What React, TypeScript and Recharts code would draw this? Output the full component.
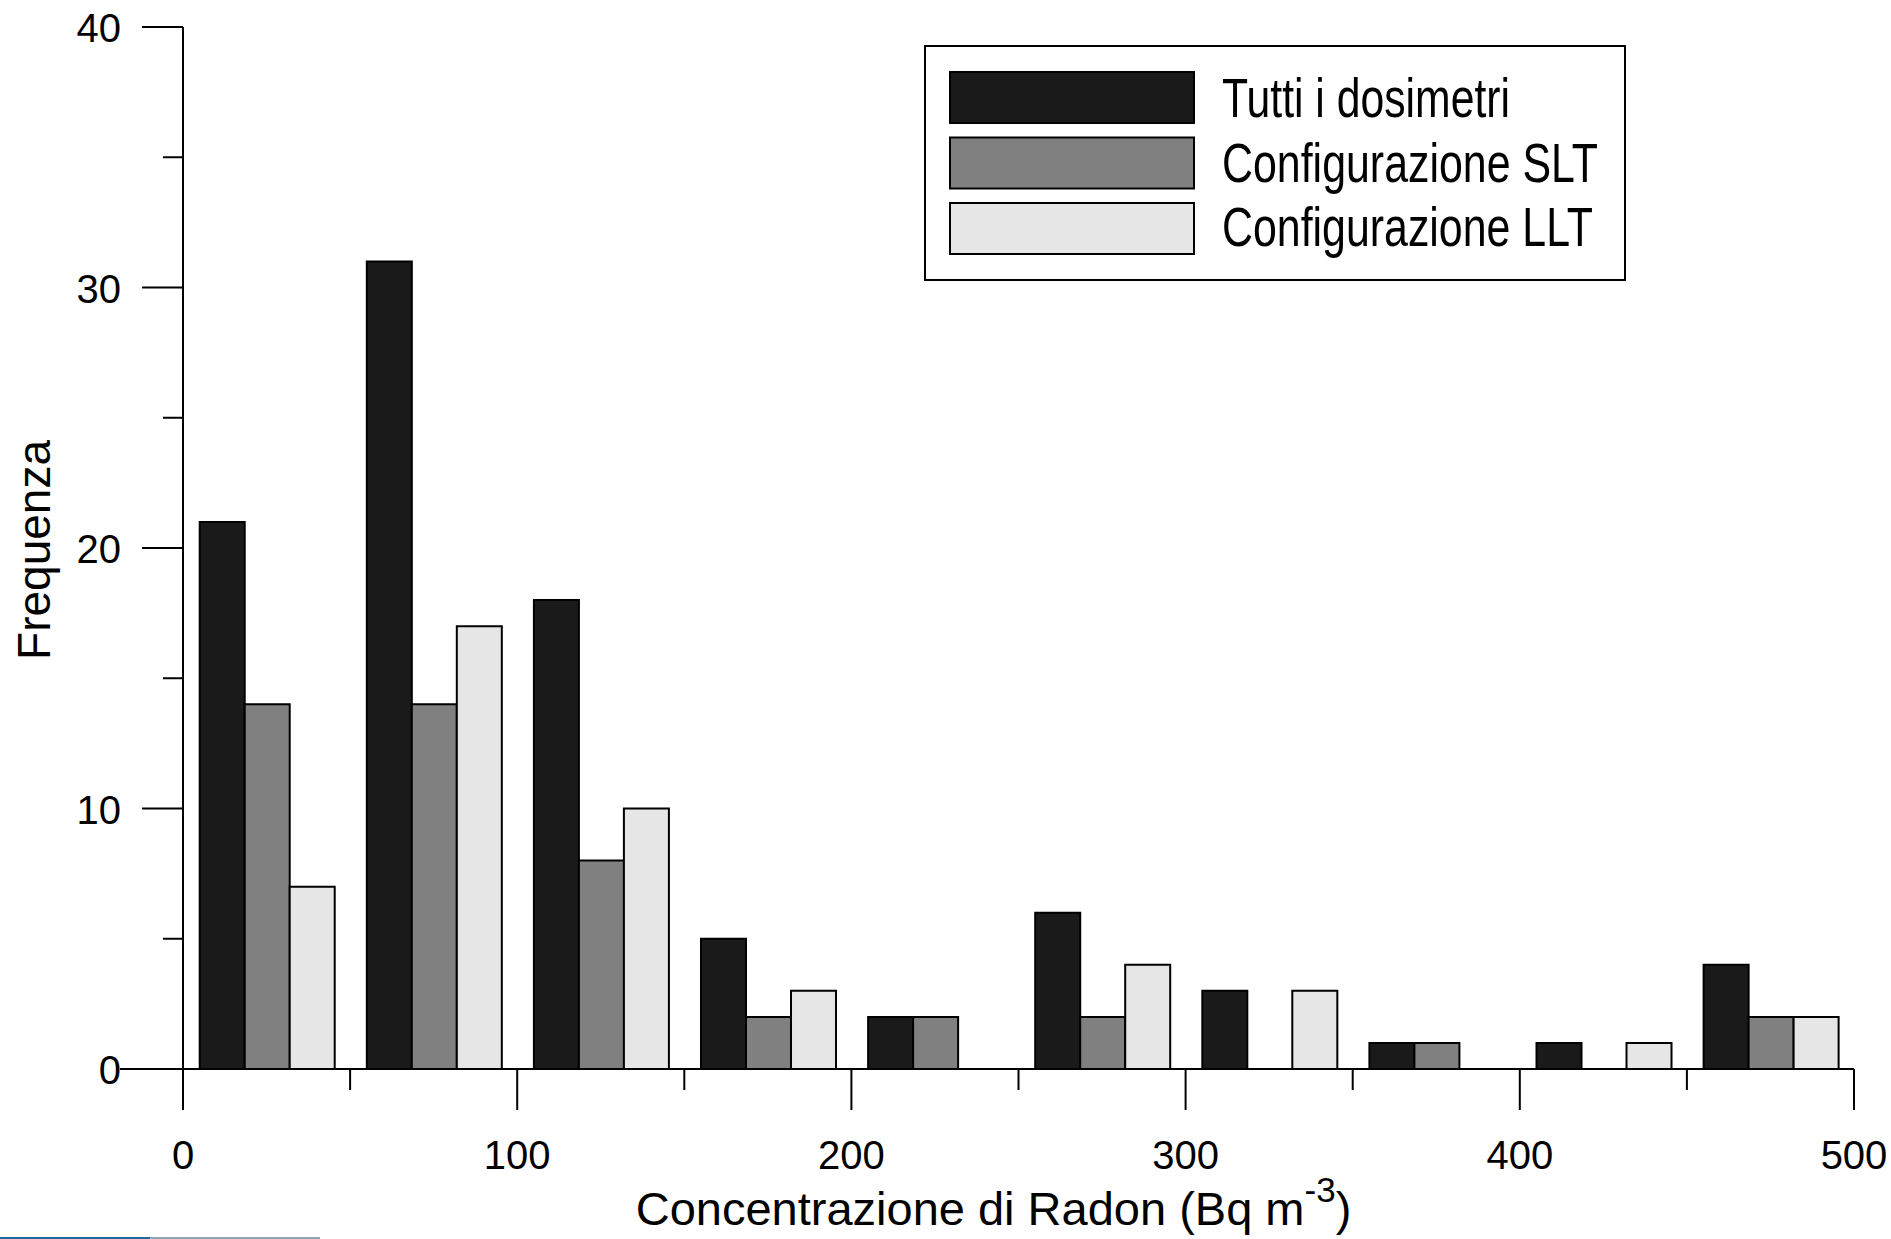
import React from "react";
import { BarChart, Bar, XAxis, YAxis, Legend, Label } from "recharts";

// centri delle classi (Bq m-3), larghezza classe 50
const binCenters = [25, 75, 125, 175, 225, 275, 325, 375, 425, 475];
const tuttiDosimetri = [21, 31, 18, 5, 2, 6, 3, 1, 1, 4];
const configSLT = [14, 14, 8, 2, 2, 2, 0, 1, 0, 2];
const configLLT = [7, 17, 10, 3, 0, 4, 3, 0, 1, 2];

const xTicks = [0, 50, 100, 150, 200, 250, 300, 350, 400, 450, 500];
const yTicks = [0, 5, 10, 15, 20, 25, 30, 35, 40];

const seriesNames = ["Tutti i dosimetri", "Configurazione SLT", "Configurazione LLT"];
const seriesColors = ["#1a1a1a", "#808080", "#e6e6e6"];

const FONT = '"Liberation Sans", Arial, Helvetica, sans-serif';

const data = binCenters.map((c, i) => ({
  bin: c,
  tutti: tuttiDosimetri[i],
  slt: configSLT[i],
  llt: configLLT[i],
}));

const XTick = (props: any) => {
  const { x, y, payload } = props;
  const major = payload.value % 100 === 0;
  return (
    <g>
      <line x1={x} x2={x} y1={y} y2={y + (major ? 41 : 21)} stroke="#000" strokeWidth={2} />
      {major && (
        <text x={x} y={y + 100} textAnchor="middle" fontSize={40} fontFamily={FONT} fill="#000">
          {payload.value}
        </text>
      )}
    </g>
  );
};

const YTick = (props: any) => {
  const { x, y, payload } = props;
  const v = payload.value;
  const major = v % 10 === 0;
  const len = v === 0 ? 63 : major ? 41 : 20;
  return (
    <g>
      <line x1={x - len} x2={x} y1={y} y2={y} stroke="#000" strokeWidth={2} />
      {major && (
        <text x={x - 62} y={y + 15} textAnchor="end" fontSize={40} fontFamily={FONT} fill="#000">
          {v}
        </text>
      )}
    </g>
  );
};

const XTitle = (props: any) => {
  const { viewBox } = props;
  const cx = viewBox.x + viewBox.width / 2 - 25;
  return (
    <text x={cx} y={viewBox.y + 156} textAnchor="middle" fontSize={47} fontFamily={FONT} fill="#000">
      Concentrazione di Radon (Bq m
      <tspan fontSize={35} dy={-23}>-3</tspan>
      <tspan dy={23}>)</tspan>
    </text>
  );
};

const YTitle = (props: any) => {
  const { viewBox } = props;
  const cy = viewBox.y + viewBox.height / 2 + 2;
  return (
    <text
      x={50}
      y={cy}
      transform={`rotate(-90, 50, ${cy})`}
      textAnchor="middle"
      fontSize={46}
      fontFamily={FONT}
      fill="#000"
    >
      Frequenza
    </text>
  );
};

// testo della legenda: stretto e alto come nell'originale
const legendTextWidths = [288, 376, 371];

const LegendBox = () => (
  <svg width={702} height={236} style={{ display: "block" }}>
    <rect x={1} y={1} width={700} height={234} fill="#fff" stroke="#000" strokeWidth={2} />
    {seriesNames.map((name, i) => (
      <g key={name}>
        <rect x={26} y={27 + i * 65.5} width={244} height={51} fill={seriesColors[i]} stroke="#000" strokeWidth={2} />
        <text
          x={298}
          y={72 + i * 64.5}
          fontSize={56}
          fontFamily={FONT}
          fill="#000"
          textLength={legendTextWidths[i]}
          lengthAdjust="spacingAndGlyphs"
        >
          {name}
        </text>
      </g>
    ))}
  </svg>
);

export default function App() {
  return (
    <div
      style={{
        position: "absolute",
        left: 0,
        top: 0,
        width: 1891,
        height: 1239,
        background: "#fff",
        overflow: "hidden",
      }}
    >
      <BarChart
        width={1891}
        height={1239}
        data={data}
        margin={{ top: 27, right: 37, left: 0, bottom: 0 }}
        barCategoryGap="10%"
        barGap={0}
      >
        <XAxis
          dataKey="bin"
          type="number"
          domain={[0, 500]}
          ticks={xTicks}
          interval={0}
          height={170}
          tickSize={0}
          tickMargin={0}
          tickLine={false}
          tick={<XTick />}
          axisLine={{ stroke: "#000", strokeWidth: 2 }}
        >
          <Label content={<XTitle />} />
        </XAxis>
        <YAxis
          domain={[0, 40]}
          ticks={yTicks}
          interval={0}
          width={183}
          tickSize={0}
          tickMargin={0}
          tickLine={false}
          tick={<YTick />}
          axisLine={{ stroke: "#000", strokeWidth: 2 }}
        >
          <Label content={<YTitle />} />
        </YAxis>
        <Legend
          layout="horizontal"
          verticalAlign="middle"
          align="center"
          content={<LegendBox />}
          wrapperStyle={{ position: "absolute", left: 924, top: 45, width: 702, height: 236 }}
        />
        <Bar dataKey="tutti" name={seriesNames[0]} fill={seriesColors[0]} stroke="#000" strokeWidth={2} isAnimationActive={false} />
        <Bar dataKey="slt" name={seriesNames[1]} fill={seriesColors[1]} stroke="#000" strokeWidth={2} isAnimationActive={false} />
        <Bar dataKey="llt" name={seriesNames[2]} fill={seriesColors[2]} stroke="#000" strokeWidth={2} isAnimationActive={false} />
      </BarChart>
      <div style={{ position: "absolute", left: 0, top: 1237, width: 150, height: 2, background: "#1b6a9b" }} />
      <div style={{ position: "absolute", left: 150, top: 1237, width: 170, height: 2, background: "#8eaab6" }} />
    </div>
  );
}
